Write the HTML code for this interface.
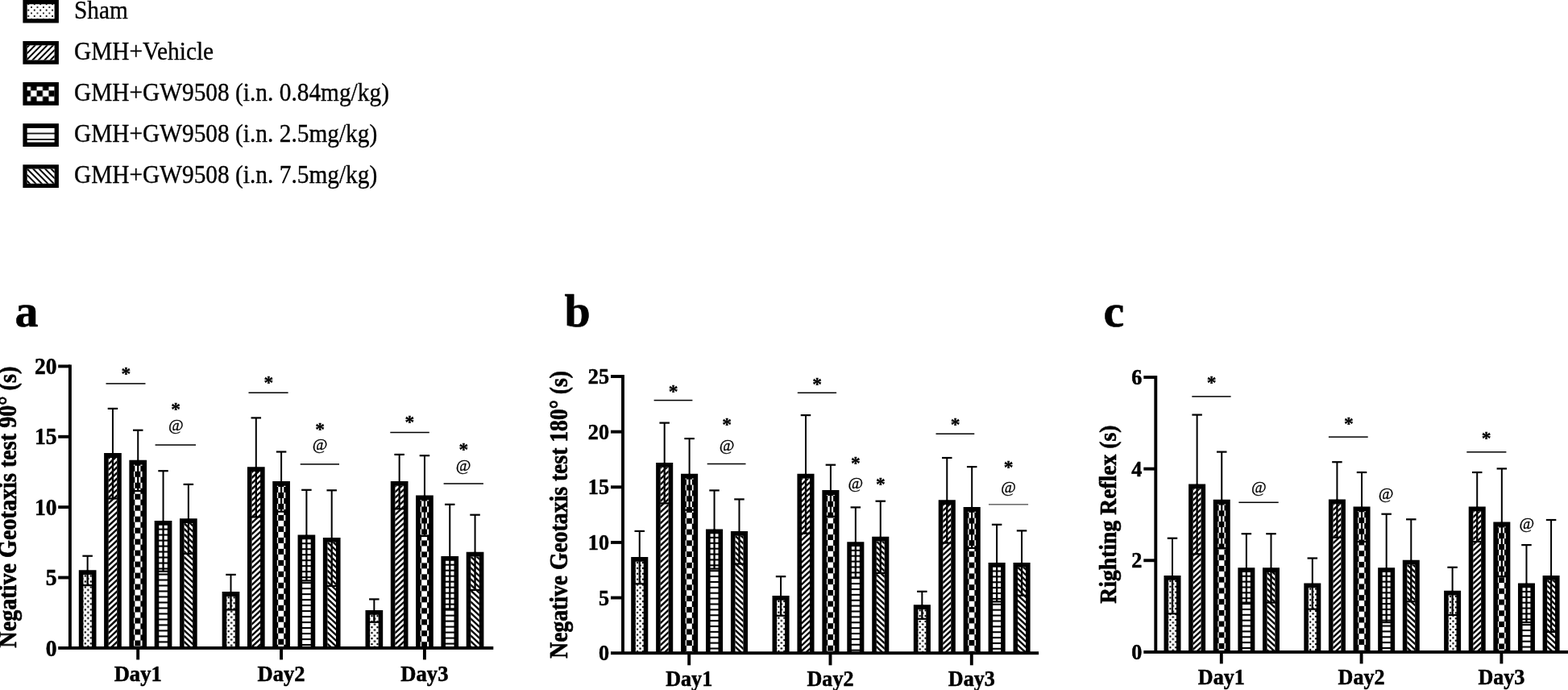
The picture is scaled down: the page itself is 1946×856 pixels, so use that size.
<!DOCTYPE html>
<html lang="en"><head><meta charset="utf-8"><title>Figure</title>
<style>html,body{margin:0;padding:0;background:#fff}svg{display:block}text{font-family:'Liberation Serif', 'Times New Roman', serif;fill:#000}</style></head><body>
<svg width="1946" height="856" viewBox="0 0 1946 856">
<defs>
<pattern id="pl0" patternUnits="userSpaceOnUse" x="6.9" y="5.3" width="7.45" height="7.45"><rect width="7.45" height="7.45" fill="#fff"/><circle cx="0" cy="0" r="1.05" fill="#000"/><circle cx="7.45" cy="0" r="1.05" fill="#000"/><circle cx="0" cy="7.45" r="1.05" fill="#000"/><circle cx="7.45" cy="7.45" r="1.05" fill="#000"/><circle cx="3.73" cy="3.73" r="1.05" fill="#000"/></pattern>
<pattern id="pl1" patternUnits="userSpaceOnUse" x="7.7" y="5.3" width="7.45" height="7.45"><rect width="7.45" height="7.45" fill="#fff"/><path d="M-7.45,7.45 L7.45,-7.45 M-7.45,14.9 L14.9,-7.45 M0,14.9 L14.9,0" stroke="#000" stroke-width="2.0" fill="none"/></pattern>
<pattern id="pl2" patternUnits="userSpaceOnUse" x="2.25" y="10.2" width="14.9" height="14.9"><rect width="14.9" height="14.9" fill="#fff"/><rect x="0" y="0" width="7.45" height="7.45" fill="#000"/><rect x="7.45" y="7.45" width="7.45" height="7.45" fill="#000"/></pattern>
<pattern id="pl3" patternUnits="userSpaceOnUse" x="5.3" y="4.9" width="7.45" height="7.45"><rect width="7.45" height="7.45" fill="#fff"/><rect x="0" y="-0.85" width="7.45" height="1.7" fill="#000"/><rect x="0" y="6.6" width="7.45" height="1.7" fill="#000"/></pattern>
<pattern id="pl4" patternUnits="userSpaceOnUse" x="5.3" y="5.3" width="7.45" height="7.45"><rect width="7.45" height="7.45" fill="#fff"/><path d="M-7.45,-7.45 L14.9,14.9 M0,-7.45 L14.9,7.45 M-7.45,0 L7.45,14.9" stroke="#000" stroke-width="2.0" fill="none"/></pattern>
<pattern id="pc0_0" patternUnits="userSpaceOnUse" x="1.03" y="0.18" width="6.99" height="6.99"><rect width="6.99" height="6.99" fill="#fff"/><circle cx="0" cy="0" r="1.25" fill="#000"/><circle cx="6.99" cy="0" r="1.25" fill="#000"/><circle cx="0" cy="6.99" r="1.25" fill="#000"/><circle cx="6.99" cy="6.99" r="1.25" fill="#000"/><circle cx="3.5" cy="3.5" r="1.25" fill="#000"/></pattern>
<pattern id="pc0_1" patternUnits="userSpaceOnUse" x="0" y="4.67" width="6.99" height="6.99"><rect width="6.99" height="6.99" fill="#fff"/><path d="M-6.99,6.99 L6.99,-6.99 M-6.99,13.98 L13.98,-6.99 M0,13.98 L13.98,0" stroke="#000" stroke-width="2.4" fill="none"/></pattern>
<pattern id="pc0_2" patternUnits="userSpaceOnUse" x="6.99" y="0" width="13.98" height="13.98"><rect width="13.98" height="13.98" fill="#fff"/><rect x="0" y="0" width="6.99" height="6.99" fill="#000"/><rect x="6.99" y="6.99" width="6.99" height="6.99" fill="#000"/></pattern>
<pattern id="pc0_3" patternUnits="userSpaceOnUse" x="0" y="3.71" width="6.99" height="6.99"><rect width="6.99" height="6.99" fill="#fff"/><rect x="0" y="-1.05" width="6.99" height="2.1" fill="#000"/><rect x="0" y="5.94" width="6.99" height="2.1" fill="#000"/></pattern>
<pattern id="pc0_4" patternUnits="userSpaceOnUse" x="0" y="0.76" width="6.99" height="6.99"><rect width="6.99" height="6.99" fill="#fff"/><path d="M-6.99,-6.99 L13.98,13.98 M0,-6.99 L13.98,6.99 M-6.99,0 L6.99,13.98" stroke="#000" stroke-width="2.4" fill="none"/></pattern>
<pattern id="pc1_0" patternUnits="userSpaceOnUse" x="1.03" y="0.18" width="6.88" height="6.88"><rect width="6.88" height="6.88" fill="#fff"/><circle cx="0" cy="0" r="1.25" fill="#000"/><circle cx="6.88" cy="0" r="1.25" fill="#000"/><circle cx="0" cy="6.88" r="1.25" fill="#000"/><circle cx="6.88" cy="6.88" r="1.25" fill="#000"/><circle cx="3.44" cy="3.44" r="1.25" fill="#000"/></pattern>
<pattern id="pc1_1" patternUnits="userSpaceOnUse" x="0" y="4.69" width="6.88" height="6.88"><rect width="6.88" height="6.88" fill="#fff"/><path d="M-6.88,6.88 L6.88,-6.88 M-6.88,13.76 L13.76,-6.88 M0,13.76 L13.76,0" stroke="#000" stroke-width="2.4" fill="none"/></pattern>
<pattern id="pc1_2" patternUnits="userSpaceOnUse" x="6.88" y="0" width="13.76" height="13.76"><rect width="13.76" height="13.76" fill="#fff"/><rect x="0" y="0" width="6.88" height="6.88" fill="#000"/><rect x="6.88" y="6.88" width="6.88" height="6.88" fill="#000"/></pattern>
<pattern id="pc1_3" patternUnits="userSpaceOnUse" x="0" y="3.64" width="6.88" height="6.88"><rect width="6.88" height="6.88" fill="#fff"/><rect x="0" y="-1.05" width="6.88" height="2.1" fill="#000"/><rect x="0" y="5.83" width="6.88" height="2.1" fill="#000"/></pattern>
<pattern id="pc1_4" patternUnits="userSpaceOnUse" x="0" y="0.74" width="6.88" height="6.88"><rect width="6.88" height="6.88" fill="#fff"/><path d="M-6.88,-6.88 L13.76,13.76 M0,-6.88 L13.76,6.88 M-6.88,0 L6.88,13.76" stroke="#000" stroke-width="2.4" fill="none"/></pattern>
<pattern id="pc2_0" patternUnits="userSpaceOnUse" x="1.03" y="0.18" width="6.86" height="6.86"><rect width="6.86" height="6.86" fill="#fff"/><circle cx="0" cy="0" r="1.25" fill="#000"/><circle cx="6.86" cy="0" r="1.25" fill="#000"/><circle cx="0" cy="6.86" r="1.25" fill="#000"/><circle cx="6.86" cy="6.86" r="1.25" fill="#000"/><circle cx="3.43" cy="3.43" r="1.25" fill="#000"/></pattern>
<pattern id="pc2_1" patternUnits="userSpaceOnUse" x="0" y="4.71" width="6.86" height="6.86"><rect width="6.86" height="6.86" fill="#fff"/><path d="M-6.86,6.86 L6.86,-6.86 M-6.86,13.72 L13.72,-6.86 M0,13.72 L13.72,0" stroke="#000" stroke-width="2.4" fill="none"/></pattern>
<pattern id="pc2_2" patternUnits="userSpaceOnUse" x="6.86" y="0" width="13.72" height="13.72"><rect width="13.72" height="13.72" fill="#fff"/><rect x="0" y="0" width="6.86" height="6.86" fill="#000"/><rect x="6.86" y="6.86" width="6.86" height="6.86" fill="#000"/></pattern>
<pattern id="pc2_3" patternUnits="userSpaceOnUse" x="0" y="3.62" width="6.86" height="6.86"><rect width="6.86" height="6.86" fill="#fff"/><rect x="0" y="-1.05" width="6.86" height="2.1" fill="#000"/><rect x="0" y="5.81" width="6.86" height="2.1" fill="#000"/></pattern>
<pattern id="pc2_4" patternUnits="userSpaceOnUse" x="0" y="0.72" width="6.86" height="6.86"><rect width="6.86" height="6.86" fill="#fff"/><path d="M-6.86,-6.86 L13.72,13.72 M0,-6.86 L13.72,6.86 M-6.86,0 L6.86,13.72" stroke="#000" stroke-width="2.4" fill="none"/></pattern>
</defs>

<rect width="1946" height="856" fill="#fff"/>
<g transform="translate(28.4,-0.1)"><rect x="4.3" y="4.3" width="35.9" height="20.1" fill="url(#pl0)"/></g><path fill-rule="evenodd" d="M28.4,-0.1h44.5v28.7h-44.5zM33.7,5.2h33.9v18.1h-33.9z"/>
<text transform="translate(92,22.5) scale(0.918,1)" font-size="32" stroke="#000" stroke-width="0.35" stroke-linejoin="round">Sham</text>
<path d="M33.7,60.11L33.7,57.29L34.69,56.3L37.51,56.3ZM33.7,67.56L33.7,64.74L42.14,56.3L44.96,56.3ZM34.31,74.4L33.7,74.4L33.7,72.19L49.59,56.3L52.41,56.3ZM41.76,74.4L38.94,74.4L57.04,56.3L59.86,56.3ZM49.21,74.4L46.39,74.4L64.49,56.3L67.31,56.3ZM56.66,74.4L53.84,74.4L67.6,60.64L67.6,63.46ZM64.11,74.4L61.29,74.4L67.6,68.09L67.6,70.91Z"/><path fill-rule="evenodd" d="M28.4,51h44.5v28.7h-44.5zM33.7,56.3h33.9v18.1h-33.9z"/>
<text transform="translate(92,73.6) scale(0.918,1)" font-size="32" stroke="#000" stroke-width="0.35" stroke-linejoin="round">GMH+Vehicle</text>
<g transform="translate(28.4,102.1)"><rect x="4.3" y="4.3" width="35.9" height="20.1" fill="url(#pl2)"/></g><path fill-rule="evenodd" d="M28.4,102.1h44.5v28.7h-44.5zM33.7,107.4h33.9v18.1h-33.9z"/>
<text transform="translate(92,124.7) scale(0.918,1)" font-size="32" stroke="#000" stroke-width="0.35" stroke-linejoin="round">GMH+GW9508 (i.n. 0.84mg/kg)</text>
<g transform="translate(28.4,153.2)"><rect x="4.3" y="4.3" width="35.9" height="20.1" fill="url(#pl3)"/></g><path fill-rule="evenodd" d="M28.4,153.2h44.5v28.7h-44.5zM33.7,158.5h33.9v18.1h-33.9z"/>
<text transform="translate(92,175.8) scale(0.918,1)" font-size="32" stroke="#000" stroke-width="0.35" stroke-linejoin="round">GMH+GW9508 (i.n. 2.5mg/kg)</text>
<path d="M62.09,209.6L64.91,209.6L67.6,212.29L67.6,215.11ZM54.64,209.6L57.46,209.6L67.6,219.74L67.6,222.56ZM65.29,227.7L47.19,209.6L50.01,209.6L67.6,227.19L67.6,227.7ZM57.84,227.7L39.74,209.6L42.56,209.6L60.66,227.7ZM50.39,227.7L33.7,211.01L33.7,209.6L35.11,209.6L53.21,227.7ZM42.94,227.7L33.7,218.46L33.7,215.64L45.76,227.7ZM35.49,227.7L33.7,225.91L33.7,223.09L38.31,227.7Z"/><path fill-rule="evenodd" d="M28.4,204.3h44.5v28.7h-44.5zM33.7,209.6h33.9v18.1h-33.9z"/>
<text transform="translate(92,226.9) scale(0.918,1)" font-size="32" stroke="#000" stroke-width="0.35" stroke-linejoin="round">GMH+GW9508 (i.n. 7.5mg/kg)</text>
<text transform="translate(18.5,404.8)" font-size="58" font-weight="bold" stroke="#000" stroke-width="0.6" stroke-linejoin="round">a</text>
<text transform="translate(20,629.2) rotate(-90)" font-size="30.8" text-anchor="middle" font-weight="bold" textLength="349" lengthAdjust="spacingAndGlyphs" stroke="#000" stroke-width="0.65" stroke-linejoin="round">Negative Geotaxis test 90° (s)</text>
<g transform="translate(97.8,707.3)"><rect x="4.6" y="4.8" width="12.5" height="92.8" fill="url(#pc0_0)"/></g><path fill-rule="evenodd" d="M97.8,707.3h21.7v96.6h-21.7zM103.4,713.1h10.5v90.8h-10.5z"/>
<rect x="107.65" y="689.7" width="2" height="18.6" fill="#000"/>
<rect x="107.5" y="707.3" width="2.3" height="18.8" fill="#000"/>
<rect x="102.4" y="688.6" width="12.5" height="2.2" fill="#000"/>
<rect x="102.9" y="725" width="11.5" height="2.2" fill="#000"/>
<path d="M134.7,570.19L134.7,567.9L137.16,567.9ZM134.7,577.18L134.7,573.9L141.16,567.9L144.68,567.9ZM134.7,584.17L134.7,580.89L145.2,571.13L145.2,574.41ZM134.7,591.16L134.7,587.88L145.2,578.12L145.2,581.4ZM134.7,598.15L134.7,594.87L145.2,585.11L145.2,588.39ZM134.7,605.14L134.7,601.86L145.2,592.1L145.2,595.38ZM134.7,612.13L134.7,608.85L145.2,599.09L145.2,602.37ZM134.7,619.12L134.7,615.84L145.2,606.08L145.2,609.36ZM134.7,626.11L134.7,622.83L145.2,613.07L145.2,616.35ZM134.7,633.1L134.7,629.82L145.2,620.06L145.2,623.34ZM134.7,640.09L134.7,636.81L145.2,627.05L145.2,630.33ZM134.7,647.08L134.7,643.8L145.2,634.04L145.2,637.32ZM134.7,654.07L134.7,650.79L145.2,641.03L145.2,644.31ZM134.7,661.06L134.7,657.78L145.2,648.02L145.2,651.3ZM134.7,668.05L134.7,664.77L145.2,655.01L145.2,658.29ZM134.7,675.04L134.7,671.76L145.2,662L145.2,665.28ZM134.7,682.03L134.7,678.75L145.2,668.99L145.2,672.27ZM134.7,689.02L134.7,685.74L145.2,675.98L145.2,679.26ZM134.7,696.01L134.7,692.73L145.2,682.97L145.2,686.25ZM134.7,703L134.7,699.72L145.2,689.96L145.2,693.24ZM134.7,709.99L134.7,706.71L145.2,696.95L145.2,700.23ZM134.7,716.98L134.7,713.7L145.2,703.94L145.2,707.22ZM134.7,723.97L134.7,720.69L145.2,710.93L145.2,714.21ZM134.7,730.96L134.7,727.68L145.2,717.92L145.2,721.2ZM134.7,737.95L134.7,734.67L145.2,724.91L145.2,728.19ZM134.7,744.94L134.7,741.66L145.2,731.9L145.2,735.18ZM134.7,751.93L134.7,748.65L145.2,738.89L145.2,742.17ZM134.7,758.92L134.7,755.64L145.2,745.88L145.2,749.16ZM134.7,765.91L134.7,762.63L145.2,752.87L145.2,756.15ZM134.7,772.9L134.7,769.62L145.2,759.86L145.2,763.14ZM134.7,779.89L134.7,776.61L145.2,766.85L145.2,770.13ZM134.7,786.88L134.7,783.6L145.2,773.84L145.2,777.12ZM134.7,793.87L134.7,790.59L145.2,780.83L145.2,784.11ZM134.7,800.86L134.7,797.58L145.2,787.82L145.2,791.1ZM138.95,803.9L135.42,803.9L145.2,794.81L145.2,798.09ZM142.94,803.9L145.2,801.8L145.2,803.9Z"/><path fill-rule="evenodd" d="M129.1,562.1h21.7v241.8h-21.7zM134.7,567.9h10.5v236h-10.5z"/>
<rect x="138.95" y="506.9" width="2" height="56.2" fill="#000"/>
<rect x="138.8" y="562.1" width="2.3" height="56.4" fill="#000"/>
<rect x="133.7" y="505.8" width="12.5" height="2.2" fill="#000"/>
<rect x="134.2" y="617.4" width="11.5" height="2.2" fill="#000"/>
<g transform="translate(160.4,570.8)"><rect x="4.6" y="4.8" width="12.5" height="229.3" fill="url(#pc0_2)"/></g><path fill-rule="evenodd" d="M160.4,570.8h21.7v233.1h-21.7zM166,576.6h10.5v227.3h-10.5z"/>
<rect x="170.25" y="533.7" width="2" height="38.1" fill="#000"/>
<rect x="170.1" y="570.8" width="2.3" height="38.3" fill="#000"/>
<rect x="165" y="532.6" width="12.5" height="2.2" fill="#000"/>
<rect x="165.5" y="608" width="11.5" height="2.2" fill="#000"/>
<g transform="translate(191.7,645.9)"><rect x="4.6" y="4.8" width="12.5" height="154.2" fill="url(#pc0_3)"/></g><path fill-rule="evenodd" d="M191.7,645.9h21.7v158h-21.7zM197.3,651.7h10.5v152.2h-10.5z"/>
<rect x="201.55" y="584.2" width="2" height="62.7" fill="#000"/>
<rect x="201.4" y="645.9" width="2.3" height="62.9" fill="#000"/>
<rect x="196.3" y="583.1" width="12.5" height="2.2" fill="#000"/>
<rect x="196.8" y="707.7" width="11.5" height="2.2" fill="#000"/>
<path d="M234.17,649.1L237.7,649.1L239.1,650.4L239.1,653.68ZM228.6,650.91L228.6,649.1L230.18,649.1L239.1,657.39L239.1,660.67ZM228.6,657.9L228.6,654.62L239.1,664.38L239.1,667.66ZM228.6,664.89L228.6,661.61L239.1,671.37L239.1,674.65ZM228.6,671.88L228.6,668.6L239.1,678.36L239.1,681.64ZM228.6,678.87L228.6,675.59L239.1,685.35L239.1,688.63ZM228.6,685.86L228.6,682.58L239.1,692.34L239.1,695.62ZM228.6,692.85L228.6,689.57L239.1,699.33L239.1,702.61ZM228.6,699.84L228.6,696.56L239.1,706.32L239.1,709.6ZM228.6,706.83L228.6,703.55L239.1,713.31L239.1,716.59ZM228.6,713.82L228.6,710.54L239.1,720.3L239.1,723.58ZM228.6,720.81L228.6,717.53L239.1,727.29L239.1,730.57ZM228.6,727.8L228.6,724.52L239.1,734.28L239.1,737.56ZM228.6,734.79L228.6,731.51L239.1,741.27L239.1,744.55ZM228.6,741.78L228.6,738.5L239.1,748.26L239.1,751.54ZM228.6,748.77L228.6,745.49L239.1,755.25L239.1,758.53ZM228.6,755.76L228.6,752.48L239.1,762.24L239.1,765.52ZM228.6,762.75L228.6,759.47L239.1,769.23L239.1,772.51ZM228.6,769.74L228.6,766.46L239.1,776.22L239.1,779.5ZM228.6,776.73L228.6,773.45L239.1,783.21L239.1,786.49ZM228.6,783.72L228.6,780.44L239.1,790.2L239.1,793.48ZM228.6,790.71L228.6,787.43L239.1,797.19L239.1,800.47ZM235.27,803.9L228.6,797.7L228.6,794.42L238.79,803.9ZM228.6,803.9L228.6,801.41L231.28,803.9Z"/><path fill-rule="evenodd" d="M223,643.3h21.7v160.6h-21.7zM228.6,649.1h10.5v154.8h-10.5z"/>
<rect x="232.85" y="600.9" width="2" height="43.4" fill="#000"/>
<rect x="232.7" y="643.3" width="2.3" height="43.6" fill="#000"/>
<rect x="227.6" y="599.8" width="12.5" height="2.2" fill="#000"/>
<rect x="228.1" y="685.8" width="11.5" height="2.2" fill="#000"/>
<rect x="169.25" y="803.9" width="3.9" height="14.5" fill="#000"/>
<text transform="translate(171.2,844.8) scale(0.95,1)" font-size="28" text-anchor="middle" font-weight="bold" stroke="#000" stroke-width="0.55" stroke-linejoin="round">Day1</text>
<g transform="translate(275.65,734.1)"><rect x="4.6" y="4.8" width="12.5" height="66" fill="url(#pc0_0)"/></g><path fill-rule="evenodd" d="M275.65,734.1h21.7v69.8h-21.7zM281.25,739.9h10.5v64h-10.5z"/>
<rect x="285.5" y="712.9" width="2" height="22.2" fill="#000"/>
<rect x="285.35" y="734.1" width="2.3" height="22.4" fill="#000"/>
<rect x="280.25" y="711.8" width="12.5" height="2.2" fill="#000"/>
<rect x="280.75" y="755.4" width="11.5" height="2.2" fill="#000"/>
<path d="M312.55,587.39L312.55,585.1L315.01,585.1ZM312.55,594.38L312.55,591.1L319.01,585.1L322.53,585.1ZM312.55,601.37L312.55,598.09L323.05,588.33L323.05,591.61ZM312.55,608.36L312.55,605.08L323.05,595.32L323.05,598.6ZM312.55,615.35L312.55,612.07L323.05,602.31L323.05,605.59ZM312.55,622.34L312.55,619.06L323.05,609.3L323.05,612.58ZM312.55,629.33L312.55,626.05L323.05,616.29L323.05,619.57ZM312.55,636.32L312.55,633.04L323.05,623.28L323.05,626.56ZM312.55,643.31L312.55,640.03L323.05,630.27L323.05,633.55ZM312.55,650.3L312.55,647.02L323.05,637.26L323.05,640.54ZM312.55,657.29L312.55,654.01L323.05,644.25L323.05,647.53ZM312.55,664.28L312.55,661L323.05,651.24L323.05,654.52ZM312.55,671.27L312.55,667.99L323.05,658.23L323.05,661.51ZM312.55,678.26L312.55,674.98L323.05,665.22L323.05,668.5ZM312.55,685.25L312.55,681.97L323.05,672.21L323.05,675.49ZM312.55,692.24L312.55,688.96L323.05,679.2L323.05,682.48ZM312.55,699.23L312.55,695.95L323.05,686.19L323.05,689.47ZM312.55,706.22L312.55,702.94L323.05,693.18L323.05,696.46ZM312.55,713.21L312.55,709.93L323.05,700.17L323.05,703.45ZM312.55,720.2L312.55,716.92L323.05,707.16L323.05,710.44ZM312.55,727.19L312.55,723.91L323.05,714.15L323.05,717.43ZM312.55,734.18L312.55,730.9L323.05,721.14L323.05,724.42ZM312.55,741.17L312.55,737.89L323.05,728.13L323.05,731.41ZM312.55,748.16L312.55,744.88L323.05,735.12L323.05,738.4ZM312.55,755.15L312.55,751.87L323.05,742.11L323.05,745.39ZM312.55,762.14L312.55,758.86L323.05,749.1L323.05,752.38ZM312.55,769.13L312.55,765.85L323.05,756.09L323.05,759.37ZM312.55,776.12L312.55,772.84L323.05,763.08L323.05,766.36ZM312.55,783.11L312.55,779.83L323.05,770.07L323.05,773.35ZM312.55,790.1L312.55,786.82L323.05,777.06L323.05,780.34ZM312.55,797.09L312.55,793.81L323.05,784.05L323.05,787.33ZM312.74,803.9L312.55,803.9L312.55,800.8L323.05,791.04L323.05,794.32ZM320.26,803.9L316.74,803.9L323.05,798.03L323.05,801.31Z"/><path fill-rule="evenodd" d="M306.95,579.3h21.7v224.6h-21.7zM312.55,585.1h10.5v218.8h-10.5z"/>
<rect x="316.8" y="518.4" width="2" height="61.9" fill="#000"/>
<rect x="316.65" y="579.3" width="2.3" height="62.1" fill="#000"/>
<rect x="311.55" y="517.3" width="12.5" height="2.2" fill="#000"/>
<rect x="312.05" y="640.3" width="11.5" height="2.2" fill="#000"/>
<g transform="translate(338.25,597)"><rect x="4.6" y="4.8" width="12.5" height="203.1" fill="url(#pc0_2)"/></g><path fill-rule="evenodd" d="M338.25,597h21.7v206.9h-21.7zM343.85,602.8h10.5v201.1h-10.5z"/>
<rect x="348.1" y="560.5" width="2" height="37.5" fill="#000"/>
<rect x="347.95" y="597" width="2.3" height="37.7" fill="#000"/>
<rect x="342.85" y="559.4" width="12.5" height="2.2" fill="#000"/>
<rect x="343.35" y="633.6" width="11.5" height="2.2" fill="#000"/>
<g transform="translate(369.55,663.5)"><rect x="4.6" y="4.8" width="12.5" height="136.6" fill="url(#pc0_3)"/></g><path fill-rule="evenodd" d="M369.55,663.5h21.7v140.4h-21.7zM375.15,669.3h10.5v134.6h-10.5z"/>
<rect x="379.4" y="607.8" width="2" height="56.7" fill="#000"/>
<rect x="379.25" y="663.5" width="2.3" height="56.9" fill="#000"/>
<rect x="374.15" y="606.7" width="12.5" height="2.2" fill="#000"/>
<rect x="374.65" y="719.3" width="11.5" height="2.2" fill="#000"/>
<path d="M412.02,672.8L415.55,672.8L416.95,674.1L416.95,677.38ZM406.45,674.61L406.45,672.8L408.03,672.8L416.95,681.09L416.95,684.37ZM406.45,681.6L406.45,678.32L416.95,688.08L416.95,691.36ZM406.45,688.59L406.45,685.31L416.95,695.07L416.95,698.35ZM406.45,695.58L406.45,692.3L416.95,702.06L416.95,705.34ZM406.45,702.57L406.45,699.29L416.95,709.05L416.95,712.33ZM406.45,709.56L406.45,706.28L416.95,716.04L416.95,719.32ZM406.45,716.55L406.45,713.27L416.95,723.03L416.95,726.31ZM406.45,723.54L406.45,720.26L416.95,730.02L416.95,733.3ZM406.45,730.53L406.45,727.25L416.95,737.01L416.95,740.29ZM406.45,737.52L406.45,734.24L416.95,744L416.95,747.28ZM406.45,744.51L406.45,741.23L416.95,750.99L416.95,754.27ZM406.45,751.5L406.45,748.22L416.95,757.98L416.95,761.26ZM406.45,758.49L406.45,755.21L416.95,764.97L416.95,768.25ZM406.45,765.48L406.45,762.2L416.95,771.96L416.95,775.24ZM406.45,772.47L406.45,769.19L416.95,778.95L416.95,782.23ZM406.45,779.46L406.45,776.18L416.95,785.94L416.95,789.22ZM406.45,786.45L406.45,783.17L416.95,792.93L416.95,796.21ZM406.45,793.44L406.45,790.16L416.95,799.92L416.95,803.2ZM410.19,803.9L406.45,800.43L406.45,797.15L413.71,803.9Z"/><path fill-rule="evenodd" d="M400.85,667h21.7v136.9h-21.7zM406.45,672.8h10.5v131.1h-10.5z"/>
<rect x="410.7" y="608.3" width="2" height="59.7" fill="#000"/>
<rect x="410.55" y="667" width="2.3" height="59.9" fill="#000"/>
<rect x="405.45" y="607.2" width="12.5" height="2.2" fill="#000"/>
<rect x="405.95" y="725.8" width="11.5" height="2.2" fill="#000"/>
<rect x="347.1" y="803.9" width="3.9" height="14.5" fill="#000"/>
<text transform="translate(349.05,844.8) scale(0.95,1)" font-size="28" text-anchor="middle" font-weight="bold" stroke="#000" stroke-width="0.55" stroke-linejoin="round">Day2</text>
<g transform="translate(453.5,757)"><rect x="4.6" y="4.8" width="12.5" height="43.1" fill="url(#pc0_0)"/></g><path fill-rule="evenodd" d="M453.5,757h21.7v46.9h-21.7zM459.1,762.8h10.5v41.1h-10.5z"/>
<rect x="463.35" y="743.4" width="2" height="14.6" fill="#000"/>
<rect x="463.2" y="757" width="2.3" height="14.8" fill="#000"/>
<rect x="458.1" y="742.3" width="12.5" height="2.2" fill="#000"/>
<rect x="458.6" y="770.7" width="11.5" height="2.2" fill="#000"/>
<path d="M490.4,605.09L490.4,602.8L492.86,602.8ZM490.4,612.08L490.4,608.8L496.86,602.8L500.38,602.8ZM490.4,619.07L490.4,615.79L500.9,606.03L500.9,609.31ZM490.4,626.06L490.4,622.78L500.9,613.02L500.9,616.3ZM490.4,633.05L490.4,629.77L500.9,620.01L500.9,623.29ZM490.4,640.04L490.4,636.76L500.9,627L500.9,630.28ZM490.4,647.03L490.4,643.75L500.9,633.99L500.9,637.27ZM490.4,654.02L490.4,650.74L500.9,640.98L500.9,644.26ZM490.4,661.01L490.4,657.73L500.9,647.97L500.9,651.25ZM490.4,668L490.4,664.72L500.9,654.96L500.9,658.24ZM490.4,674.99L490.4,671.71L500.9,661.95L500.9,665.23ZM490.4,681.98L490.4,678.7L500.9,668.94L500.9,672.22ZM490.4,688.97L490.4,685.69L500.9,675.93L500.9,679.21ZM490.4,695.96L490.4,692.68L500.9,682.92L500.9,686.2ZM490.4,702.95L490.4,699.67L500.9,689.91L500.9,693.19ZM490.4,709.94L490.4,706.66L500.9,696.9L500.9,700.18ZM490.4,716.93L490.4,713.65L500.9,703.89L500.9,707.17ZM490.4,723.92L490.4,720.64L500.9,710.88L500.9,714.16ZM490.4,730.91L490.4,727.63L500.9,717.87L500.9,721.15ZM490.4,737.9L490.4,734.62L500.9,724.86L500.9,728.14ZM490.4,744.89L490.4,741.61L500.9,731.85L500.9,735.13ZM490.4,751.88L490.4,748.6L500.9,738.84L500.9,742.12ZM490.4,758.87L490.4,755.59L500.9,745.83L500.9,749.11ZM490.4,765.86L490.4,762.58L500.9,752.82L500.9,756.1ZM490.4,772.85L490.4,769.57L500.9,759.81L500.9,763.09ZM490.4,779.84L490.4,776.56L500.9,766.8L500.9,770.08ZM490.4,786.83L490.4,783.55L500.9,773.79L500.9,777.07ZM490.4,793.82L490.4,790.54L500.9,780.78L500.9,784.06ZM490.4,800.81L490.4,797.53L500.9,787.77L500.9,791.05ZM494.59,803.9L491.07,803.9L500.9,794.76L500.9,798.04ZM498.59,803.9L500.9,801.75L500.9,803.9Z"/><path fill-rule="evenodd" d="M484.8,597h21.7v206.9h-21.7zM490.4,602.8h10.5v201.1h-10.5z"/>
<rect x="494.65" y="563.9" width="2" height="34.1" fill="#000"/>
<rect x="494.5" y="597" width="2.3" height="34.3" fill="#000"/>
<rect x="489.4" y="562.8" width="12.5" height="2.2" fill="#000"/>
<rect x="489.9" y="630.2" width="11.5" height="2.2" fill="#000"/>
<g transform="translate(516.1,614.5)"><rect x="4.6" y="4.8" width="12.5" height="185.6" fill="url(#pc0_2)"/></g><path fill-rule="evenodd" d="M516.1,614.5h21.7v189.4h-21.7zM521.7,620.3h10.5v183.6h-10.5z"/>
<rect x="525.95" y="565.2" width="2" height="50.3" fill="#000"/>
<rect x="525.8" y="614.5" width="2.3" height="50.5" fill="#000"/>
<rect x="520.7" y="564.1" width="12.5" height="2.2" fill="#000"/>
<rect x="521.2" y="663.9" width="11.5" height="2.2" fill="#000"/>
<g transform="translate(547.4,690)"><rect x="4.6" y="4.8" width="12.5" height="110.1" fill="url(#pc0_3)"/></g><path fill-rule="evenodd" d="M547.4,690h21.7v113.9h-21.7zM553,695.8h10.5v108.1h-10.5z"/>
<rect x="557.25" y="625.8" width="2" height="65.2" fill="#000"/>
<rect x="557.1" y="690" width="2.3" height="65.4" fill="#000"/>
<rect x="552" y="624.7" width="12.5" height="2.2" fill="#000"/>
<rect x="552.5" y="754.3" width="11.5" height="2.2" fill="#000"/>
<path d="M589.87,690.5L593.4,690.5L594.8,691.8L594.8,695.08ZM584.3,692.31L584.3,690.5L585.88,690.5L594.8,698.79L594.8,702.07ZM584.3,699.3L584.3,696.02L594.8,705.78L594.8,709.06ZM584.3,706.29L584.3,703.01L594.8,712.77L594.8,716.05ZM584.3,713.28L584.3,710L594.8,719.76L594.8,723.04ZM584.3,720.27L584.3,716.99L594.8,726.75L594.8,730.03ZM584.3,727.26L584.3,723.98L594.8,733.74L594.8,737.02ZM584.3,734.25L584.3,730.97L594.8,740.73L594.8,744.01ZM584.3,741.24L584.3,737.96L594.8,747.72L594.8,751ZM584.3,748.23L584.3,744.95L594.8,754.71L594.8,757.99ZM584.3,755.22L584.3,751.94L594.8,761.7L594.8,764.98ZM584.3,762.21L584.3,758.93L594.8,768.69L594.8,771.97ZM584.3,769.2L584.3,765.92L594.8,775.68L594.8,778.96ZM584.3,776.19L584.3,772.91L594.8,782.67L594.8,785.95ZM584.3,783.18L584.3,779.9L594.8,789.66L594.8,792.94ZM584.3,790.17L584.3,786.89L594.8,796.65L594.8,799.93ZM591.55,803.9L584.3,797.16L584.3,793.88L594.8,803.64L594.8,803.9ZM584.3,803.9L584.3,800.87L587.56,803.9Z"/><path fill-rule="evenodd" d="M578.7,684.7h21.7v119.2h-21.7zM584.3,690.5h10.5v113.4h-10.5z"/>
<rect x="588.55" y="638.7" width="2" height="47" fill="#000"/>
<rect x="588.4" y="684.7" width="2.3" height="47.2" fill="#000"/>
<rect x="583.3" y="637.6" width="12.5" height="2.2" fill="#000"/>
<rect x="583.8" y="730.8" width="11.5" height="2.2" fill="#000"/>
<rect x="524.95" y="803.9" width="3.9" height="14.5" fill="#000"/>
<text transform="translate(526.9,844.8) scale(0.95,1)" font-size="28" text-anchor="middle" font-weight="bold" stroke="#000" stroke-width="0.55" stroke-linejoin="round">Day3</text>
<rect x="84.95" y="452.45" width="3.9" height="351.45" fill="#000"/>
<rect x="72.2" y="801.95" width="540.1" height="3.9" fill="#000"/>
<text transform="translate(70.4,813.6) scale(0.965,1)" font-size="28.5" text-anchor="end" font-weight="bold" stroke="#000" stroke-width="0.55" stroke-linejoin="round">0</text>
<rect x="72.2" y="714.57" width="14.7" height="3.9" fill="#000"/>
<text transform="translate(70.4,726.23) scale(0.965,1)" font-size="28.5" text-anchor="end" font-weight="bold" stroke="#000" stroke-width="0.55" stroke-linejoin="round">5</text>
<rect x="72.2" y="627.2" width="14.7" height="3.9" fill="#000"/>
<text transform="translate(70.4,638.85) scale(0.965,1)" font-size="28.5" text-anchor="end" font-weight="bold" stroke="#000" stroke-width="0.55" stroke-linejoin="round">10</text>
<rect x="72.2" y="539.82" width="14.7" height="3.9" fill="#000"/>
<text transform="translate(70.4,551.48) scale(0.965,1)" font-size="28.5" text-anchor="end" font-weight="bold" stroke="#000" stroke-width="0.55" stroke-linejoin="round">15</text>
<rect x="72.2" y="452.45" width="14.7" height="3.9" fill="#000"/>
<text transform="translate(70.4,464.1) scale(0.965,1)" font-size="28.5" text-anchor="end" font-weight="bold" stroke="#000" stroke-width="0.55" stroke-linejoin="round">20</text>
<rect x="131.5" y="475.15" width="49" height="1.5" fill="#000"/>
<text transform="translate(156.3,470.5)" font-size="23.5" text-anchor="middle" font-weight="bold" stroke="#000" stroke-width="0.4" stroke-linejoin="round">*</text>
<rect x="192.6" y="551.25" width="50.4" height="1.5" fill="#000"/>
<text transform="translate(218.2,515)" font-size="23.5" text-anchor="middle" font-weight="bold" stroke="#000" stroke-width="0.4" stroke-linejoin="round">*</text>
<text transform="translate(218.4,534.4) scale(1.07,1)" font-size="19" text-anchor="middle" stroke="#000" stroke-width="0.3" stroke-linejoin="round">@</text>
<rect x="308.5" y="486.45" width="49.1" height="1.5" fill="#000"/>
<text transform="translate(333.4,481.6)" font-size="23.5" text-anchor="middle" font-weight="bold" stroke="#000" stroke-width="0.4" stroke-linejoin="round">*</text>
<rect x="372.7" y="575.15" width="48.3" height="1.5" fill="#000"/>
<text transform="translate(397.1,539.5)" font-size="23.5" text-anchor="middle" font-weight="bold" stroke="#000" stroke-width="0.4" stroke-linejoin="round">*</text>
<text transform="translate(397,558.4) scale(1.07,1)" font-size="19" text-anchor="middle" stroke="#000" stroke-width="0.3" stroke-linejoin="round">@</text>
<rect x="484.3" y="535.75" width="48.5" height="1.5" fill="#000"/>
<text transform="translate(508.4,531)" font-size="23.5" text-anchor="middle" font-weight="bold" stroke="#000" stroke-width="0.4" stroke-linejoin="round">*</text>
<rect x="550.6" y="599.25" width="49.3" height="1.5" fill="#000"/>
<text transform="translate(575.3,564.6)" font-size="23.5" text-anchor="middle" font-weight="bold" stroke="#000" stroke-width="0.4" stroke-linejoin="round">*</text>
<text transform="translate(575,583.9) scale(1.07,1)" font-size="19" text-anchor="middle" stroke="#000" stroke-width="0.3" stroke-linejoin="round">@</text>
<text transform="translate(700.6,404.8)" font-size="58" font-weight="bold" stroke="#000" stroke-width="0.6" stroke-linejoin="round">b</text>
<text transform="translate(704,638.45) rotate(-90)" font-size="30.8" text-anchor="middle" font-weight="bold" textLength="356.7" lengthAdjust="spacingAndGlyphs" stroke="#000" stroke-width="0.65" stroke-linejoin="round">Negative Geotaxis test 180° (s)</text>
<g transform="translate(783.2,691)"><rect x="4.6" y="4.8" width="11.9" height="115.4" fill="url(#pc1_0)"/></g><path fill-rule="evenodd" d="M783.2,691h21.1v119.2h-21.1zM788.8,696.8h9.9v113.4h-9.9z"/>
<rect x="792.75" y="658.9" width="2" height="33.1" fill="#000"/>
<rect x="792.6" y="691" width="2.3" height="33.3" fill="#000"/>
<rect x="787.5" y="657.8" width="12.5" height="2.2" fill="#000"/>
<rect x="788.3" y="723.2" width="10.9" height="2.2" fill="#000"/>
<path d="M819.73,581.9L819.73,579.7L822.1,579.7ZM819.73,588.78L819.73,585.5L825.97,579.7L829.5,579.7ZM819.73,595.66L819.73,592.38L829.63,583.18L829.63,586.46ZM819.73,602.54L819.73,599.26L829.63,590.06L829.63,593.34ZM819.73,609.42L819.73,606.14L829.63,596.94L829.63,600.22ZM819.73,616.3L819.73,613.02L829.63,603.82L829.63,607.1ZM819.73,623.18L819.73,619.9L829.63,610.7L829.63,613.98ZM819.73,630.06L819.73,626.78L829.63,617.58L829.63,620.86ZM819.73,636.94L819.73,633.66L829.63,624.46L829.63,627.74ZM819.73,643.82L819.73,640.54L829.63,631.34L829.63,634.62ZM819.73,650.7L819.73,647.42L829.63,638.22L829.63,641.5ZM819.73,657.58L819.73,654.3L829.63,645.1L829.63,648.38ZM819.73,664.46L819.73,661.18L829.63,651.98L829.63,655.26ZM819.73,671.34L819.73,668.06L829.63,658.86L829.63,662.14ZM819.73,678.22L819.73,674.94L829.63,665.74L829.63,669.02ZM819.73,685.1L819.73,681.82L829.63,672.62L829.63,675.9ZM819.73,691.98L819.73,688.7L829.63,679.5L829.63,682.78ZM819.73,698.86L819.73,695.58L829.63,686.38L829.63,689.66ZM819.73,705.74L819.73,702.46L829.63,693.26L829.63,696.54ZM819.73,712.62L819.73,709.34L829.63,700.14L829.63,703.42ZM819.73,719.5L819.73,716.22L829.63,707.02L829.63,710.3ZM819.73,726.38L819.73,723.1L829.63,713.9L829.63,717.18ZM819.73,733.26L819.73,729.98L829.63,720.78L829.63,724.06ZM819.73,740.14L819.73,736.86L829.63,727.66L829.63,730.94ZM819.73,747.02L819.73,743.74L829.63,734.54L829.63,737.82ZM819.73,753.9L819.73,750.62L829.63,741.42L829.63,744.7ZM819.73,760.78L819.73,757.5L829.63,748.3L829.63,751.58ZM819.73,767.66L819.73,764.38L829.63,755.18L829.63,758.46ZM819.73,774.54L819.73,771.26L829.63,762.06L829.63,765.34ZM819.73,781.42L819.73,778.14L829.63,768.94L829.63,772.22ZM819.73,788.3L819.73,785.02L829.63,775.82L829.63,779.1ZM819.73,795.18L819.73,791.9L829.63,782.7L829.63,785.98ZM819.73,802.06L819.73,798.78L829.63,789.58L829.63,792.86ZM819.73,808.94L819.73,805.66L829.63,796.46L829.63,799.74ZM825.78,810.2L822.25,810.2L829.63,803.34L829.63,806.62Z"/><path fill-rule="evenodd" d="M814.13,573.9h21.1v236.3h-21.1zM819.73,579.7h9.9v230.5h-9.9z"/>
<rect x="823.68" y="524.6" width="2" height="50.3" fill="#000"/>
<rect x="823.53" y="573.9" width="2.3" height="50.5" fill="#000"/>
<rect x="818.43" y="523.5" width="12.5" height="2.2" fill="#000"/>
<rect x="819.23" y="623.3" width="10.9" height="2.2" fill="#000"/>
<g transform="translate(845.06,587.8)"><rect x="4.6" y="4.8" width="11.9" height="218.6" fill="url(#pc1_2)"/></g><path fill-rule="evenodd" d="M845.06,587.8h21.1v222.4h-21.1zM850.66,593.6h9.9v216.6h-9.9z"/>
<rect x="854.61" y="544.1" width="2" height="44.7" fill="#000"/>
<rect x="854.46" y="587.8" width="2.3" height="44.9" fill="#000"/>
<rect x="849.36" y="543" width="12.5" height="2.2" fill="#000"/>
<rect x="850.16" y="631.6" width="10.9" height="2.2" fill="#000"/>
<g transform="translate(875.99,656.4)"><rect x="4.6" y="4.8" width="11.9" height="150" fill="url(#pc1_3)"/></g><path fill-rule="evenodd" d="M875.99,656.4h21.1v153.8h-21.1zM881.59,662.2h9.9v148h-9.9z"/>
<rect x="885.54" y="608.4" width="2" height="49" fill="#000"/>
<rect x="885.39" y="656.4" width="2.3" height="49.2" fill="#000"/>
<rect x="880.29" y="607.3" width="12.5" height="2.2" fill="#000"/>
<rect x="881.09" y="704.5" width="10.9" height="2.2" fill="#000"/>
<path d="M918,664.7L921.52,664.7L922.42,665.53L922.42,668.81ZM912.52,666.49L912.52,664.7L914.12,664.7L922.42,672.41L922.42,675.69ZM912.52,673.37L912.52,670.09L922.42,679.29L922.42,682.57ZM912.52,680.25L912.52,676.97L922.42,686.17L922.42,689.45ZM912.52,687.13L912.52,683.85L922.42,693.05L922.42,696.33ZM912.52,694.01L912.52,690.73L922.42,699.93L922.42,703.21ZM912.52,700.89L912.52,697.61L922.42,706.81L922.42,710.09ZM912.52,707.77L912.52,704.49L922.42,713.69L922.42,716.97ZM912.52,714.65L912.52,711.37L922.42,720.57L922.42,723.85ZM912.52,721.53L912.52,718.25L922.42,727.45L922.42,730.73ZM912.52,728.41L912.52,725.13L922.42,734.33L922.42,737.61ZM912.52,735.29L912.52,732.01L922.42,741.21L922.42,744.49ZM912.52,742.17L912.52,738.89L922.42,748.09L922.42,751.37ZM912.52,749.05L912.52,745.77L922.42,754.97L922.42,758.25ZM912.52,755.93L912.52,752.65L922.42,761.85L922.42,765.13ZM912.52,762.81L912.52,759.53L922.42,768.73L922.42,772.01ZM912.52,769.69L912.52,766.41L922.42,775.61L922.42,778.89ZM912.52,776.57L912.52,773.29L922.42,782.49L922.42,785.77ZM912.52,783.45L912.52,780.17L922.42,789.37L922.42,792.65ZM912.52,790.33L912.52,787.05L922.42,796.25L922.42,799.53ZM912.52,797.21L912.52,793.93L922.42,803.13L922.42,806.41ZM919.1,810.2L912.52,804.09L912.52,800.81L922.42,810.01L922.42,810.2ZM912.52,810.2L912.52,807.69L915.22,810.2Z"/><path fill-rule="evenodd" d="M906.92,658.9h21.1v151.3h-21.1zM912.52,664.7h9.9v145.5h-9.9z"/>
<rect x="916.47" y="619.4" width="2" height="40.5" fill="#000"/>
<rect x="916.32" y="658.9" width="2.3" height="40.7" fill="#000"/>
<rect x="911.22" y="618.3" width="12.5" height="2.2" fill="#000"/>
<rect x="912.02" y="698.5" width="10.9" height="2.2" fill="#000"/>
<rect x="853.25" y="810.2" width="3.9" height="15.1" fill="#000"/>
<text transform="translate(855.2,850.8) scale(0.95,1)" font-size="27.5" text-anchor="middle" font-weight="bold" stroke="#000" stroke-width="0.55" stroke-linejoin="round">Day1</text>
<g transform="translate(958.5,738.9)"><rect x="4.6" y="4.8" width="11.9" height="67.5" fill="url(#pc1_0)"/></g><path fill-rule="evenodd" d="M958.5,738.9h21.1v71.3h-21.1zM964.1,744.7h9.9v65.5h-9.9z"/>
<rect x="968.05" y="715.2" width="2" height="24.7" fill="#000"/>
<rect x="967.9" y="738.9" width="2.3" height="24.9" fill="#000"/>
<rect x="962.8" y="714.1" width="12.5" height="2.2" fill="#000"/>
<rect x="963.6" y="762.7" width="10.9" height="2.2" fill="#000"/>
<path d="M995.03,595.8L995.03,593.6L997.4,593.6ZM995.03,602.68L995.03,599.4L1001.27,593.6L1004.8,593.6ZM995.03,609.56L995.03,606.28L1004.93,597.08L1004.93,600.36ZM995.03,616.44L995.03,613.16L1004.93,603.96L1004.93,607.24ZM995.03,623.32L995.03,620.04L1004.93,610.84L1004.93,614.12ZM995.03,630.2L995.03,626.92L1004.93,617.72L1004.93,621ZM995.03,637.08L995.03,633.8L1004.93,624.6L1004.93,627.88ZM995.03,643.96L995.03,640.68L1004.93,631.48L1004.93,634.76ZM995.03,650.84L995.03,647.56L1004.93,638.36L1004.93,641.64ZM995.03,657.72L995.03,654.44L1004.93,645.24L1004.93,648.52ZM995.03,664.6L995.03,661.32L1004.93,652.12L1004.93,655.4ZM995.03,671.48L995.03,668.2L1004.93,659L1004.93,662.28ZM995.03,678.36L995.03,675.08L1004.93,665.88L1004.93,669.16ZM995.03,685.24L995.03,681.96L1004.93,672.76L1004.93,676.04ZM995.03,692.12L995.03,688.84L1004.93,679.64L1004.93,682.92ZM995.03,699L995.03,695.72L1004.93,686.52L1004.93,689.8ZM995.03,705.88L995.03,702.6L1004.93,693.4L1004.93,696.68ZM995.03,712.76L995.03,709.48L1004.93,700.28L1004.93,703.56ZM995.03,719.64L995.03,716.36L1004.93,707.16L1004.93,710.44ZM995.03,726.52L995.03,723.24L1004.93,714.04L1004.93,717.32ZM995.03,733.4L995.03,730.12L1004.93,720.92L1004.93,724.2ZM995.03,740.28L995.03,737L1004.93,727.8L1004.93,731.08ZM995.03,747.16L995.03,743.88L1004.93,734.68L1004.93,737.96ZM995.03,754.04L995.03,750.76L1004.93,741.56L1004.93,744.84ZM995.03,760.92L995.03,757.64L1004.93,748.44L1004.93,751.72ZM995.03,767.8L995.03,764.52L1004.93,755.32L1004.93,758.6ZM995.03,774.68L995.03,771.4L1004.93,762.2L1004.93,765.48ZM995.03,781.56L995.03,778.28L1004.93,769.08L1004.93,772.36ZM995.03,788.44L995.03,785.16L1004.93,775.96L1004.93,779.24ZM995.03,795.32L995.03,792.04L1004.93,782.84L1004.93,786.12ZM995.03,802.2L995.03,798.92L1004.93,789.72L1004.93,793ZM995.03,809.08L995.03,805.8L1004.93,796.6L1004.93,799.88ZM1001.23,810.2L997.7,810.2L1004.93,803.48L1004.93,806.76Z"/><path fill-rule="evenodd" d="M989.43,587.8h21.1v222.4h-21.1zM995.03,593.6h9.9v216.6h-9.9z"/>
<rect x="998.98" y="515.1" width="2" height="73.7" fill="#000"/>
<rect x="998.83" y="587.8" width="2.3" height="73.9" fill="#000"/>
<rect x="993.73" y="514" width="12.5" height="2.2" fill="#000"/>
<rect x="994.53" y="660.6" width="10.9" height="2.2" fill="#000"/>
<g transform="translate(1020.36,608.1)"><rect x="4.6" y="4.8" width="11.9" height="198.3" fill="url(#pc1_2)"/></g><path fill-rule="evenodd" d="M1020.36,608.1h21.1v202.1h-21.1zM1025.96,613.9h9.9v196.3h-9.9z"/>
<rect x="1029.91" y="576.7" width="2" height="32.4" fill="#000"/>
<rect x="1029.76" y="608.1" width="2.3" height="32.6" fill="#000"/>
<rect x="1024.66" y="575.6" width="12.5" height="2.2" fill="#000"/>
<rect x="1025.46" y="639.6" width="10.9" height="2.2" fill="#000"/>
<g transform="translate(1051.29,672.3)"><rect x="4.6" y="4.8" width="11.9" height="134.1" fill="url(#pc1_3)"/></g><path fill-rule="evenodd" d="M1051.29,672.3h21.1v137.9h-21.1zM1056.89,678.1h9.9v132.1h-9.9z"/>
<rect x="1060.84" y="629.4" width="2" height="43.9" fill="#000"/>
<rect x="1060.69" y="672.3" width="2.3" height="44.1" fill="#000"/>
<rect x="1055.59" y="628.3" width="12.5" height="2.2" fill="#000"/>
<rect x="1056.39" y="715.3" width="10.9" height="2.2" fill="#000"/>
<path d="M1093.3,671.5L1096.82,671.5L1097.72,672.33L1097.72,675.61ZM1087.82,673.29L1087.82,671.5L1089.42,671.5L1097.72,679.21L1097.72,682.49ZM1087.82,680.17L1087.82,676.89L1097.72,686.09L1097.72,689.37ZM1087.82,687.05L1087.82,683.77L1097.72,692.97L1097.72,696.25ZM1087.82,693.93L1087.82,690.65L1097.72,699.85L1097.72,703.13ZM1087.82,700.81L1087.82,697.53L1097.72,706.73L1097.72,710.01ZM1087.82,707.69L1087.82,704.41L1097.72,713.61L1097.72,716.89ZM1087.82,714.57L1087.82,711.29L1097.72,720.49L1097.72,723.77ZM1087.82,721.45L1087.82,718.17L1097.72,727.37L1097.72,730.65ZM1087.82,728.33L1087.82,725.05L1097.72,734.25L1097.72,737.53ZM1087.82,735.21L1087.82,731.93L1097.72,741.13L1097.72,744.41ZM1087.82,742.09L1087.82,738.81L1097.72,748.01L1097.72,751.29ZM1087.82,748.97L1087.82,745.69L1097.72,754.89L1097.72,758.17ZM1087.82,755.85L1087.82,752.57L1097.72,761.77L1097.72,765.05ZM1087.82,762.73L1087.82,759.45L1097.72,768.65L1097.72,771.93ZM1087.82,769.61L1087.82,766.33L1097.72,775.53L1097.72,778.81ZM1087.82,776.49L1087.82,773.21L1097.72,782.41L1097.72,785.69ZM1087.82,783.37L1087.82,780.09L1097.72,789.29L1097.72,792.57ZM1087.82,790.25L1087.82,786.97L1097.72,796.17L1097.72,799.45ZM1087.82,797.13L1087.82,793.85L1097.72,803.05L1097.72,806.33ZM1094.48,810.2L1087.82,804.01L1087.82,800.73L1097.72,809.93L1097.72,810.2ZM1087.82,810.2L1087.82,807.61L1090.61,810.2Z"/><path fill-rule="evenodd" d="M1082.22,665.7h21.1v144.5h-21.1zM1087.82,671.5h9.9v138.7h-9.9z"/>
<rect x="1091.77" y="621.7" width="2" height="45" fill="#000"/>
<rect x="1091.62" y="665.7" width="2.3" height="45.2" fill="#000"/>
<rect x="1086.52" y="620.6" width="12.5" height="2.2" fill="#000"/>
<rect x="1087.32" y="709.8" width="10.9" height="2.2" fill="#000"/>
<rect x="1028.55" y="810.2" width="3.9" height="15.1" fill="#000"/>
<text transform="translate(1030.5,850.8) scale(0.95,1)" font-size="27.5" text-anchor="middle" font-weight="bold" stroke="#000" stroke-width="0.55" stroke-linejoin="round">Day2</text>
<g transform="translate(1133.8,750.2)"><rect x="4.6" y="4.8" width="11.9" height="56.2" fill="url(#pc1_0)"/></g><path fill-rule="evenodd" d="M1133.8,750.2h21.1v60h-21.1zM1139.4,756h9.9v54.2h-9.9z"/>
<rect x="1143.35" y="733.8" width="2" height="17.4" fill="#000"/>
<rect x="1143.2" y="750.2" width="2.3" height="17.6" fill="#000"/>
<rect x="1138.1" y="732.7" width="12.5" height="2.2" fill="#000"/>
<rect x="1138.9" y="766.7" width="10.9" height="2.2" fill="#000"/>
<path d="M1170.33,628.2L1170.33,626L1172.7,626ZM1170.33,635.08L1170.33,631.8L1176.57,626L1180.1,626ZM1170.33,641.96L1170.33,638.68L1180.23,629.48L1180.23,632.76ZM1170.33,648.84L1170.33,645.56L1180.23,636.36L1180.23,639.64ZM1170.33,655.72L1170.33,652.44L1180.23,643.24L1180.23,646.52ZM1170.33,662.6L1170.33,659.32L1180.23,650.12L1180.23,653.4ZM1170.33,669.48L1170.33,666.2L1180.23,657L1180.23,660.28ZM1170.33,676.36L1170.33,673.08L1180.23,663.88L1180.23,667.16ZM1170.33,683.24L1170.33,679.96L1180.23,670.76L1180.23,674.04ZM1170.33,690.12L1170.33,686.84L1180.23,677.64L1180.23,680.92ZM1170.33,697L1170.33,693.72L1180.23,684.52L1180.23,687.8ZM1170.33,703.88L1170.33,700.6L1180.23,691.4L1180.23,694.68ZM1170.33,710.76L1170.33,707.48L1180.23,698.28L1180.23,701.56ZM1170.33,717.64L1170.33,714.36L1180.23,705.16L1180.23,708.44ZM1170.33,724.52L1170.33,721.24L1180.23,712.04L1180.23,715.32ZM1170.33,731.4L1170.33,728.12L1180.23,718.92L1180.23,722.2ZM1170.33,738.28L1170.33,735L1180.23,725.8L1180.23,729.08ZM1170.33,745.16L1170.33,741.88L1180.23,732.68L1180.23,735.96ZM1170.33,752.04L1170.33,748.76L1180.23,739.56L1180.23,742.84ZM1170.33,758.92L1170.33,755.64L1180.23,746.44L1180.23,749.72ZM1170.33,765.8L1170.33,762.52L1180.23,753.32L1180.23,756.6ZM1170.33,772.68L1170.33,769.4L1180.23,760.2L1180.23,763.48ZM1170.33,779.56L1170.33,776.28L1180.23,767.08L1180.23,770.36ZM1170.33,786.44L1170.33,783.16L1180.23,773.96L1180.23,777.24ZM1170.33,793.32L1170.33,790.04L1180.23,780.84L1180.23,784.12ZM1170.33,800.2L1170.33,796.92L1180.23,787.72L1180.23,791ZM1170.33,807.08L1170.33,803.8L1180.23,794.6L1180.23,797.88ZM1174.38,810.2L1170.85,810.2L1180.23,801.48L1180.23,804.76ZM1178.25,810.2L1180.23,808.36L1180.23,810.2Z"/><path fill-rule="evenodd" d="M1164.73,620.2h21.1v190h-21.1zM1170.33,626h9.9v184.2h-9.9z"/>
<rect x="1174.28" y="568" width="2" height="53.2" fill="#000"/>
<rect x="1174.13" y="620.2" width="2.3" height="53.4" fill="#000"/>
<rect x="1169.03" y="566.9" width="12.5" height="2.2" fill="#000"/>
<rect x="1169.83" y="672.5" width="10.9" height="2.2" fill="#000"/>
<g transform="translate(1195.66,628.9)"><rect x="4.6" y="4.8" width="11.9" height="177.5" fill="url(#pc1_2)"/></g><path fill-rule="evenodd" d="M1195.66,628.9h21.1v181.3h-21.1zM1201.26,634.7h9.9v175.5h-9.9z"/>
<rect x="1205.21" y="579.1" width="2" height="50.8" fill="#000"/>
<rect x="1205.06" y="628.9" width="2.3" height="51" fill="#000"/>
<rect x="1199.96" y="578" width="12.5" height="2.2" fill="#000"/>
<rect x="1200.76" y="678.8" width="10.9" height="2.2" fill="#000"/>
<g transform="translate(1226.59,698)"><rect x="4.6" y="4.8" width="11.9" height="108.4" fill="url(#pc1_3)"/></g><path fill-rule="evenodd" d="M1226.59,698h21.1v112.2h-21.1zM1232.19,703.8h9.9v106.4h-9.9z"/>
<rect x="1236.14" y="650.8" width="2" height="48.2" fill="#000"/>
<rect x="1235.99" y="698" width="2.3" height="48.4" fill="#000"/>
<rect x="1230.89" y="649.7" width="12.5" height="2.2" fill="#000"/>
<rect x="1231.69" y="745.3" width="10.9" height="2.2" fill="#000"/>
<path d="M1268.6,703.8L1272.12,703.8L1273.02,704.63L1273.02,707.91ZM1263.12,705.59L1263.12,703.8L1264.72,703.8L1273.02,711.51L1273.02,714.79ZM1263.12,712.47L1263.12,709.19L1273.02,718.39L1273.02,721.67ZM1263.12,719.35L1263.12,716.07L1273.02,725.27L1273.02,728.55ZM1263.12,726.23L1263.12,722.95L1273.02,732.15L1273.02,735.43ZM1263.12,733.11L1263.12,729.83L1273.02,739.03L1273.02,742.31ZM1263.12,739.99L1263.12,736.71L1273.02,745.91L1273.02,749.19ZM1263.12,746.87L1263.12,743.59L1273.02,752.79L1273.02,756.07ZM1263.12,753.75L1263.12,750.47L1273.02,759.67L1273.02,762.95ZM1263.12,760.63L1263.12,757.35L1273.02,766.55L1273.02,769.83ZM1263.12,767.51L1263.12,764.23L1273.02,773.43L1273.02,776.71ZM1263.12,774.39L1263.12,771.11L1273.02,780.31L1273.02,783.59ZM1263.12,781.27L1263.12,777.99L1273.02,787.19L1273.02,790.47ZM1263.12,788.15L1263.12,784.87L1273.02,794.07L1273.02,797.35ZM1263.12,795.03L1263.12,791.75L1273.02,800.95L1273.02,804.23ZM1272.04,810.2L1263.12,801.91L1263.12,798.63L1273.02,807.83L1273.02,810.2ZM1264.64,810.2L1263.12,808.79L1263.12,805.51L1268.17,810.2Z"/><path fill-rule="evenodd" d="M1257.52,698h21.1v112.2h-21.1zM1263.12,703.8h9.9v106.4h-9.9z"/>
<rect x="1267.07" y="658.4" width="2" height="40.6" fill="#000"/>
<rect x="1266.92" y="698" width="2.3" height="40.8" fill="#000"/>
<rect x="1261.82" y="657.3" width="12.5" height="2.2" fill="#000"/>
<rect x="1262.62" y="737.7" width="10.9" height="2.2" fill="#000"/>
<rect x="1203.85" y="810.2" width="3.9" height="15.1" fill="#000"/>
<text transform="translate(1205.8,850.8) scale(0.95,1)" font-size="27.5" text-anchor="middle" font-weight="bold" stroke="#000" stroke-width="0.55" stroke-linejoin="round">Day3</text>
<rect x="771.05" y="465.05" width="3.9" height="345.15" fill="#000"/>
<rect x="758" y="808.25" width="531.1" height="3.9" fill="#000"/>
<text transform="translate(756,819.2) scale(0.95,1)" font-size="27.6" text-anchor="end" font-weight="bold" stroke="#000" stroke-width="0.55" stroke-linejoin="round">0</text>
<rect x="758" y="739.61" width="15" height="3.9" fill="#000"/>
<text transform="translate(756,750.56) scale(0.95,1)" font-size="27.6" text-anchor="end" font-weight="bold" stroke="#000" stroke-width="0.55" stroke-linejoin="round">5</text>
<rect x="758" y="670.97" width="15" height="3.9" fill="#000"/>
<text transform="translate(756,681.92) scale(0.95,1)" font-size="27.6" text-anchor="end" font-weight="bold" stroke="#000" stroke-width="0.55" stroke-linejoin="round">10</text>
<rect x="758" y="602.33" width="15" height="3.9" fill="#000"/>
<text transform="translate(756,613.28) scale(0.95,1)" font-size="27.6" text-anchor="end" font-weight="bold" stroke="#000" stroke-width="0.55" stroke-linejoin="round">15</text>
<rect x="758" y="533.69" width="15" height="3.9" fill="#000"/>
<text transform="translate(756,544.64) scale(0.95,1)" font-size="27.6" text-anchor="end" font-weight="bold" stroke="#000" stroke-width="0.55" stroke-linejoin="round">20</text>
<rect x="758" y="465.05" width="15" height="3.9" fill="#000"/>
<text transform="translate(756,476) scale(0.95,1)" font-size="27.6" text-anchor="end" font-weight="bold" stroke="#000" stroke-width="0.55" stroke-linejoin="round">25</text>
<rect x="811.6" y="495.85" width="47.8" height="1.5" fill="#000"/>
<text transform="translate(835.5,492.7)" font-size="23.5" text-anchor="middle" font-weight="bold" stroke="#000" stroke-width="0.4" stroke-linejoin="round">*</text>
<rect x="877.7" y="574.75" width="47.8" height="1.5" fill="#000"/>
<text transform="translate(902.1,533.8)" font-size="23.5" text-anchor="middle" font-weight="bold" stroke="#000" stroke-width="0.4" stroke-linejoin="round">*</text>
<text transform="translate(902,558.9) scale(1.07,1)" font-size="19" text-anchor="middle" stroke="#000" stroke-width="0.3" stroke-linejoin="round">@</text>
<rect x="989.8" y="486.55" width="48.3" height="1.5" fill="#000"/>
<text transform="translate(1014.2,483.7)" font-size="23.5" text-anchor="middle" font-weight="bold" stroke="#000" stroke-width="0.4" stroke-linejoin="round">*</text>
<text transform="translate(1061.8,582.1)" font-size="23.5" text-anchor="middle" font-weight="bold" stroke="#000" stroke-width="0.4" stroke-linejoin="round">*</text>
<text transform="translate(1061.8,605.7) scale(1.07,1)" font-size="19" text-anchor="middle" stroke="#000" stroke-width="0.3" stroke-linejoin="round">@</text>
<text transform="translate(1092.8,607.6)" font-size="23.5" text-anchor="middle" font-weight="bold" stroke="#000" stroke-width="0.4" stroke-linejoin="round">*</text>
<rect x="1161.5" y="537.45" width="47.8" height="1.5" fill="#000"/>
<text transform="translate(1185.6,534.3)" font-size="23.5" text-anchor="middle" font-weight="bold" stroke="#000" stroke-width="0.4" stroke-linejoin="round">*</text>
<rect x="1227" y="625.05" width="49.1" height="1.5" fill="#666"/>
<text transform="translate(1251.7,587.3)" font-size="23.5" text-anchor="middle" font-weight="bold" stroke="#000" stroke-width="0.4" stroke-linejoin="round">*</text>
<text transform="translate(1251.7,610.9) scale(1.07,1)" font-size="19" text-anchor="middle" stroke="#000" stroke-width="0.3" stroke-linejoin="round">@</text>
<text transform="translate(1369.5,404.8)" font-size="58" font-weight="bold" stroke="#000" stroke-width="0.6" stroke-linejoin="round">c</text>
<text transform="translate(1385,638.1) rotate(-90)" font-size="30.3" text-anchor="middle" font-weight="bold" textLength="221.3" lengthAdjust="spacingAndGlyphs" stroke="#000" stroke-width="0.65" stroke-linejoin="round">Righting Reflex (s)</text>
<g transform="translate(1444.5,713.9)"><rect x="4.6" y="4.8" width="11.8" height="91.2" fill="url(#pc2_0)"/></g><path fill-rule="evenodd" d="M1444.5,713.9h21v95h-21zM1450.1,719.7h9.8v89.2h-9.8z"/>
<rect x="1454" y="667.7" width="2" height="47.2" fill="#000"/>
<rect x="1453.85" y="713.9" width="2.3" height="47.4" fill="#000"/>
<rect x="1448.75" y="666.6" width="12.5" height="2.2" fill="#000"/>
<rect x="1449.6" y="760.2" width="10.8" height="2.2" fill="#000"/>
<path d="M1480.72,608.4L1480.72,606.2L1483.08,606.2ZM1480.72,615.26L1480.72,611.98L1486.93,606.2L1490.46,606.2ZM1480.72,622.12L1480.72,618.84L1490.52,609.72L1490.52,613ZM1480.72,628.98L1480.72,625.7L1490.52,616.58L1490.52,619.86ZM1480.72,635.84L1480.72,632.56L1490.52,623.44L1490.52,626.72ZM1480.72,642.7L1480.72,639.42L1490.52,630.3L1490.52,633.58ZM1480.72,649.56L1480.72,646.28L1490.52,637.16L1490.52,640.44ZM1480.72,656.42L1480.72,653.14L1490.52,644.02L1490.52,647.3ZM1480.72,663.28L1480.72,660L1490.52,650.88L1490.52,654.16ZM1480.72,670.14L1480.72,666.86L1490.52,657.74L1490.52,661.02ZM1480.72,677L1480.72,673.72L1490.52,664.6L1490.52,667.88ZM1480.72,683.86L1480.72,680.58L1490.52,671.46L1490.52,674.74ZM1480.72,690.72L1480.72,687.44L1490.52,678.32L1490.52,681.6ZM1480.72,697.58L1480.72,694.3L1490.52,685.18L1490.52,688.46ZM1480.72,704.44L1480.72,701.16L1490.52,692.04L1490.52,695.32ZM1480.72,711.3L1480.72,708.02L1490.52,698.9L1490.52,702.18ZM1480.72,718.16L1480.72,714.88L1490.52,705.76L1490.52,709.04ZM1480.72,725.02L1480.72,721.74L1490.52,712.62L1490.52,715.9ZM1480.72,731.88L1480.72,728.6L1490.52,719.48L1490.52,722.76ZM1480.72,738.74L1480.72,735.46L1490.52,726.34L1490.52,729.62ZM1480.72,745.6L1480.72,742.32L1490.52,733.2L1490.52,736.48ZM1480.72,752.46L1480.72,749.18L1490.52,740.06L1490.52,743.34ZM1480.72,759.32L1480.72,756.04L1490.52,746.92L1490.52,750.2ZM1480.72,766.18L1480.72,762.9L1490.52,753.78L1490.52,757.06ZM1480.72,773.04L1480.72,769.76L1490.52,760.64L1490.52,763.92ZM1480.72,779.9L1480.72,776.62L1490.52,767.5L1490.52,770.78ZM1480.72,786.76L1480.72,783.48L1490.52,774.36L1490.52,777.64ZM1480.72,793.62L1480.72,790.34L1490.52,781.22L1490.52,784.5ZM1480.72,800.48L1480.72,797.2L1490.52,788.08L1490.52,791.36ZM1480.72,807.34L1480.72,804.06L1490.52,794.94L1490.52,798.22ZM1486.41,808.9L1482.89,808.9L1490.52,801.8L1490.52,805.08ZM1490.27,808.9L1490.52,808.66L1490.52,808.9Z"/><path fill-rule="evenodd" d="M1475.12,600.4h21v208.5h-21zM1480.72,606.2h9.8v202.7h-9.8z"/>
<rect x="1484.62" y="514.6" width="2" height="86.8" fill="#000"/>
<rect x="1484.47" y="600.4" width="2.3" height="87" fill="#000"/>
<rect x="1479.37" y="513.5" width="12.5" height="2.2" fill="#000"/>
<rect x="1480.22" y="686.3" width="10.8" height="2.2" fill="#000"/>
<g transform="translate(1505.74,619.7)"><rect x="4.6" y="4.8" width="11.8" height="185.4" fill="url(#pc2_2)"/></g><path fill-rule="evenodd" d="M1505.74,619.7h21v189.2h-21zM1511.34,625.5h9.8v183.4h-9.8z"/>
<rect x="1515.24" y="560.6" width="2" height="60.1" fill="#000"/>
<rect x="1515.09" y="619.7" width="2.3" height="60.3" fill="#000"/>
<rect x="1509.99" y="559.5" width="12.5" height="2.2" fill="#000"/>
<rect x="1510.84" y="678.9" width="10.8" height="2.2" fill="#000"/>
<g transform="translate(1536.36,704.3)"><rect x="4.6" y="4.8" width="11.8" height="100.8" fill="url(#pc2_3)"/></g><path fill-rule="evenodd" d="M1536.36,704.3h21v104.6h-21zM1541.96,710.1h9.8v98.8h-9.8z"/>
<rect x="1545.86" y="662.2" width="2" height="43.1" fill="#000"/>
<rect x="1545.71" y="704.3" width="2.3" height="43.3" fill="#000"/>
<rect x="1540.61" y="661.1" width="12.5" height="2.2" fill="#000"/>
<rect x="1541.46" y="746.5" width="10.8" height="2.2" fill="#000"/>
<path d="M1578.05,710.1L1581.58,710.1L1582.38,710.85L1582.38,714.13ZM1572.58,711.87L1572.58,710.1L1574.2,710.1L1582.38,717.71L1582.38,720.99ZM1572.58,718.73L1572.58,715.45L1582.38,724.57L1582.38,727.85ZM1572.58,725.59L1572.58,722.31L1582.38,731.43L1582.38,734.71ZM1572.58,732.45L1572.58,729.17L1582.38,738.29L1582.38,741.57ZM1572.58,739.31L1572.58,736.03L1582.38,745.15L1582.38,748.43ZM1572.58,746.17L1572.58,742.89L1582.38,752.01L1582.38,755.29ZM1572.58,753.03L1572.58,749.75L1582.38,758.87L1582.38,762.15ZM1572.58,759.89L1572.58,756.61L1582.38,765.73L1582.38,769.01ZM1572.58,766.75L1572.58,763.47L1582.38,772.59L1582.38,775.87ZM1572.58,773.61L1572.58,770.33L1582.38,779.45L1582.38,782.73ZM1572.58,780.47L1572.58,777.19L1582.38,786.31L1582.38,789.59ZM1572.58,787.33L1572.58,784.05L1582.38,793.17L1582.38,796.45ZM1572.58,794.19L1572.58,790.91L1582.38,800.03L1582.38,803.31ZM1581.02,808.9L1572.58,801.05L1572.58,797.77L1582.38,806.89L1582.38,808.9ZM1573.64,808.9L1572.58,807.91L1572.58,804.63L1577.17,808.9Z"/><path fill-rule="evenodd" d="M1566.98,704.3h21v104.6h-21zM1572.58,710.1h9.8v98.8h-9.8z"/>
<rect x="1576.48" y="662.2" width="2" height="43.1" fill="#000"/>
<rect x="1576.33" y="704.3" width="2.3" height="43.3" fill="#000"/>
<rect x="1571.23" y="661.1" width="12.5" height="2.2" fill="#000"/>
<rect x="1572.08" y="746.5" width="10.8" height="2.2" fill="#000"/>
<rect x="1513.85" y="808.9" width="3.9" height="14.5" fill="#000"/>
<text transform="translate(1515.8,849) scale(0.95,1)" font-size="27.5" text-anchor="middle" font-weight="bold" stroke="#000" stroke-width="0.55" stroke-linejoin="round">Day1</text>
<g transform="translate(1618.3,723.5)"><rect x="4.6" y="4.8" width="11.8" height="81.6" fill="url(#pc2_0)"/></g><path fill-rule="evenodd" d="M1618.3,723.5h21v85.4h-21zM1623.9,729.3h9.8v79.6h-9.8z"/>
<rect x="1627.8" y="692.5" width="2" height="32" fill="#000"/>
<rect x="1627.65" y="723.5" width="2.3" height="32.2" fill="#000"/>
<rect x="1622.55" y="691.4" width="12.5" height="2.2" fill="#000"/>
<rect x="1623.4" y="754.6" width="10.8" height="2.2" fill="#000"/>
<path d="M1654.52,627.4L1654.52,625.2L1656.88,625.2ZM1654.52,634.26L1654.52,630.98L1660.73,625.2L1664.26,625.2ZM1654.52,641.12L1654.52,637.84L1664.32,628.72L1664.32,632ZM1654.52,647.98L1654.52,644.7L1664.32,635.58L1664.32,638.86ZM1654.52,654.84L1654.52,651.56L1664.32,642.44L1664.32,645.72ZM1654.52,661.7L1654.52,658.42L1664.32,649.3L1664.32,652.58ZM1654.52,668.56L1654.52,665.28L1664.32,656.16L1664.32,659.44ZM1654.52,675.42L1654.52,672.14L1664.32,663.02L1664.32,666.3ZM1654.52,682.28L1654.52,679L1664.32,669.88L1664.32,673.16ZM1654.52,689.14L1654.52,685.86L1664.32,676.74L1664.32,680.02ZM1654.52,696L1654.52,692.72L1664.32,683.6L1664.32,686.88ZM1654.52,702.86L1654.52,699.58L1664.32,690.46L1664.32,693.74ZM1654.52,709.72L1654.52,706.44L1664.32,697.32L1664.32,700.6ZM1654.52,716.58L1654.52,713.3L1664.32,704.18L1664.32,707.46ZM1654.52,723.44L1654.52,720.16L1664.32,711.04L1664.32,714.32ZM1654.52,730.3L1654.52,727.02L1664.32,717.9L1664.32,721.18ZM1654.52,737.16L1654.52,733.88L1664.32,724.76L1664.32,728.04ZM1654.52,744.02L1654.52,740.74L1664.32,731.62L1664.32,734.9ZM1654.52,750.88L1654.52,747.6L1664.32,738.48L1664.32,741.76ZM1654.52,757.74L1654.52,754.46L1664.32,745.34L1664.32,748.62ZM1654.52,764.6L1654.52,761.32L1664.32,752.2L1664.32,755.48ZM1654.52,771.46L1654.52,768.18L1664.32,759.06L1664.32,762.34ZM1654.52,778.32L1654.52,775.04L1664.32,765.92L1664.32,769.2ZM1654.52,785.18L1654.52,781.9L1664.32,772.78L1664.32,776.06ZM1654.52,792.04L1654.52,788.76L1664.32,779.64L1664.32,782.92ZM1654.52,798.9L1654.52,795.62L1664.32,786.5L1664.32,789.78ZM1654.52,805.76L1654.52,802.48L1664.32,793.36L1664.32,796.64ZM1658.52,808.9L1654.99,808.9L1664.32,800.22L1664.32,803.5ZM1662.37,808.9L1664.32,807.08L1664.32,808.9Z"/><path fill-rule="evenodd" d="M1648.92,619.4h21v189.5h-21zM1654.52,625.2h9.8v183.7h-9.8z"/>
<rect x="1658.42" y="573.2" width="2" height="47.2" fill="#000"/>
<rect x="1658.27" y="619.4" width="2.3" height="47.4" fill="#000"/>
<rect x="1653.17" y="572.1" width="12.5" height="2.2" fill="#000"/>
<rect x="1654.02" y="665.7" width="10.8" height="2.2" fill="#000"/>
<g transform="translate(1679.54,628.4)"><rect x="4.6" y="4.8" width="11.8" height="176.7" fill="url(#pc2_2)"/></g><path fill-rule="evenodd" d="M1679.54,628.4h21v180.5h-21zM1685.14,634.2h9.8v174.7h-9.8z"/>
<rect x="1689.04" y="586" width="2" height="43.4" fill="#000"/>
<rect x="1688.89" y="628.4" width="2.3" height="43.6" fill="#000"/>
<rect x="1683.79" y="584.9" width="12.5" height="2.2" fill="#000"/>
<rect x="1684.64" y="670.9" width="10.8" height="2.2" fill="#000"/>
<g transform="translate(1710.16,704.3)"><rect x="4.6" y="4.8" width="11.8" height="100.8" fill="url(#pc2_3)"/></g><path fill-rule="evenodd" d="M1710.16,704.3h21v104.6h-21zM1715.76,710.1h9.8v98.8h-9.8z"/>
<rect x="1719.66" y="637.7" width="2" height="67.6" fill="#000"/>
<rect x="1719.51" y="704.3" width="2.3" height="67.8" fill="#000"/>
<rect x="1714.41" y="636.6" width="12.5" height="2.2" fill="#000"/>
<rect x="1715.26" y="771" width="10.8" height="2.2" fill="#000"/>
<path d="M1751.85,700.5L1755.38,700.5L1756.18,701.25L1756.18,704.53ZM1746.38,702.27L1746.38,700.5L1748,700.5L1756.18,708.11L1756.18,711.39ZM1746.38,709.13L1746.38,705.85L1756.18,714.97L1756.18,718.25ZM1746.38,715.99L1746.38,712.71L1756.18,721.83L1756.18,725.11ZM1746.38,722.85L1746.38,719.57L1756.18,728.69L1756.18,731.97ZM1746.38,729.71L1746.38,726.43L1756.18,735.55L1756.18,738.83ZM1746.38,736.57L1746.38,733.29L1756.18,742.41L1756.18,745.69ZM1746.38,743.43L1746.38,740.15L1756.18,749.27L1756.18,752.55ZM1746.38,750.29L1746.38,747.01L1756.18,756.13L1756.18,759.41ZM1746.38,757.15L1746.38,753.87L1756.18,762.99L1756.18,766.27ZM1746.38,764.01L1746.38,760.73L1756.18,769.85L1756.18,773.13ZM1746.38,770.87L1746.38,767.59L1756.18,776.71L1756.18,779.99ZM1746.38,777.73L1746.38,774.45L1756.18,783.57L1756.18,786.85ZM1746.38,784.59L1746.38,781.31L1756.18,790.43L1756.18,793.71ZM1746.38,791.45L1746.38,788.17L1756.18,797.29L1756.18,800.57ZM1746.38,798.31L1746.38,795.03L1756.18,804.15L1756.18,807.43ZM1750.39,808.9L1746.38,805.17L1746.38,801.89L1753.91,808.9ZM1746.38,808.9L1746.38,808.75L1746.54,808.9Z"/><path fill-rule="evenodd" d="M1740.78,694.7h21v114.2h-21zM1746.38,700.5h9.8v108.4h-9.8z"/>
<rect x="1750.28" y="644.3" width="2" height="51.4" fill="#000"/>
<rect x="1750.13" y="694.7" width="2.3" height="51.6" fill="#000"/>
<rect x="1745.03" y="643.2" width="12.5" height="2.2" fill="#000"/>
<rect x="1745.88" y="745.2" width="10.8" height="2.2" fill="#000"/>
<rect x="1687.65" y="808.9" width="3.9" height="14.5" fill="#000"/>
<text transform="translate(1689.6,849) scale(0.95,1)" font-size="27.5" text-anchor="middle" font-weight="bold" stroke="#000" stroke-width="0.55" stroke-linejoin="round">Day2</text>
<g transform="translate(1792.1,732.8)"><rect x="4.6" y="4.8" width="11.8" height="72.3" fill="url(#pc2_0)"/></g><path fill-rule="evenodd" d="M1792.1,732.8h21v76.1h-21zM1797.7,738.6h9.8v70.3h-9.8z"/>
<rect x="1801.6" y="703.8" width="2" height="30" fill="#000"/>
<rect x="1801.45" y="732.8" width="2.3" height="30.2" fill="#000"/>
<rect x="1796.35" y="702.7" width="12.5" height="2.2" fill="#000"/>
<rect x="1797.2" y="761.9" width="10.8" height="2.2" fill="#000"/>
<path d="M1828.32,636.4L1828.32,634.2L1830.68,634.2ZM1828.32,643.26L1828.32,639.98L1834.53,634.2L1838.06,634.2ZM1828.32,650.12L1828.32,646.84L1838.12,637.72L1838.12,641ZM1828.32,656.98L1828.32,653.7L1838.12,644.58L1838.12,647.86ZM1828.32,663.84L1828.32,660.56L1838.12,651.44L1838.12,654.72ZM1828.32,670.7L1828.32,667.42L1838.12,658.3L1838.12,661.58ZM1828.32,677.56L1828.32,674.28L1838.12,665.16L1838.12,668.44ZM1828.32,684.42L1828.32,681.14L1838.12,672.02L1838.12,675.3ZM1828.32,691.28L1828.32,688L1838.12,678.88L1838.12,682.16ZM1828.32,698.14L1828.32,694.86L1838.12,685.74L1838.12,689.02ZM1828.32,705L1828.32,701.72L1838.12,692.6L1838.12,695.88ZM1828.32,711.86L1828.32,708.58L1838.12,699.46L1838.12,702.74ZM1828.32,718.72L1828.32,715.44L1838.12,706.32L1838.12,709.6ZM1828.32,725.58L1828.32,722.3L1838.12,713.18L1838.12,716.46ZM1828.32,732.44L1828.32,729.16L1838.12,720.04L1838.12,723.32ZM1828.32,739.3L1828.32,736.02L1838.12,726.9L1838.12,730.18ZM1828.32,746.16L1828.32,742.88L1838.12,733.76L1838.12,737.04ZM1828.32,753.02L1828.32,749.74L1838.12,740.62L1838.12,743.9ZM1828.32,759.88L1828.32,756.6L1838.12,747.48L1838.12,750.76ZM1828.32,766.74L1828.32,763.46L1838.12,754.34L1838.12,757.62ZM1828.32,773.6L1828.32,770.32L1838.12,761.2L1838.12,764.48ZM1828.32,780.46L1828.32,777.18L1838.12,768.06L1838.12,771.34ZM1828.32,787.32L1828.32,784.04L1838.12,774.92L1838.12,778.2ZM1828.32,794.18L1828.32,790.9L1838.12,781.78L1838.12,785.06ZM1828.32,801.04L1828.32,797.76L1838.12,788.64L1838.12,791.92ZM1828.32,807.9L1828.32,804.62L1838.12,795.5L1838.12,798.78ZM1834.62,808.9L1831.09,808.9L1838.12,802.36L1838.12,805.64Z"/><path fill-rule="evenodd" d="M1822.72,628.4h21v180.5h-21zM1828.32,634.2h9.8v174.7h-9.8z"/>
<rect x="1832.22" y="586" width="2" height="43.4" fill="#000"/>
<rect x="1832.07" y="628.4" width="2.3" height="43.6" fill="#000"/>
<rect x="1826.97" y="584.9" width="12.5" height="2.2" fill="#000"/>
<rect x="1827.82" y="670.9" width="10.8" height="2.2" fill="#000"/>
<g transform="translate(1853.34,647.6)"><rect x="4.6" y="4.8" width="11.8" height="157.5" fill="url(#pc2_2)"/></g><path fill-rule="evenodd" d="M1853.34,647.6h21v161.3h-21zM1858.94,653.4h9.8v155.5h-9.8z"/>
<rect x="1862.84" y="581.4" width="2" height="67.2" fill="#000"/>
<rect x="1862.69" y="647.6" width="2.3" height="67.4" fill="#000"/>
<rect x="1857.59" y="580.3" width="12.5" height="2.2" fill="#000"/>
<rect x="1858.44" y="713.9" width="10.8" height="2.2" fill="#000"/>
<g transform="translate(1883.96,723.5)"><rect x="4.6" y="4.8" width="11.8" height="81.6" fill="url(#pc2_3)"/></g><path fill-rule="evenodd" d="M1883.96,723.5h21v85.4h-21zM1889.56,729.3h9.8v79.6h-9.8z"/>
<rect x="1893.46" y="676.1" width="2" height="48.4" fill="#000"/>
<rect x="1893.31" y="723.5" width="2.3" height="48.6" fill="#000"/>
<rect x="1888.21" y="675" width="12.5" height="2.2" fill="#000"/>
<rect x="1889.06" y="771" width="10.8" height="2.2" fill="#000"/>
<path d="M1925.65,719.7L1929.18,719.7L1929.98,720.45L1929.98,723.73ZM1920.18,721.47L1920.18,719.7L1921.8,719.7L1929.98,727.31L1929.98,730.59ZM1920.18,728.33L1920.18,725.05L1929.98,734.17L1929.98,737.45ZM1920.18,735.19L1920.18,731.91L1929.98,741.03L1929.98,744.31ZM1920.18,742.05L1920.18,738.77L1929.98,747.89L1929.98,751.17ZM1920.18,748.91L1920.18,745.63L1929.98,754.75L1929.98,758.03ZM1920.18,755.77L1920.18,752.49L1929.98,761.61L1929.98,764.89ZM1920.18,762.63L1920.18,759.35L1929.98,768.47L1929.98,771.75ZM1920.18,769.49L1920.18,766.21L1929.98,775.33L1929.98,778.61ZM1920.18,776.35L1920.18,773.07L1929.98,782.19L1929.98,785.47ZM1920.18,783.21L1920.18,779.93L1929.98,789.05L1929.98,792.33ZM1920.18,790.07L1920.18,786.79L1929.98,795.91L1929.98,799.19ZM1920.18,796.93L1920.18,793.65L1929.98,802.77L1929.98,806.05ZM1925.67,808.9L1920.18,803.79L1920.18,800.51L1929.2,808.9ZM1920.18,808.9L1920.18,807.37L1921.82,808.9Z"/><path fill-rule="evenodd" d="M1914.58,713.9h21v95h-21zM1920.18,719.7h9.8v89.2h-9.8z"/>
<rect x="1924.08" y="645" width="2" height="69.9" fill="#000"/>
<rect x="1923.93" y="713.9" width="2.3" height="70.1" fill="#000"/>
<rect x="1918.83" y="643.9" width="12.5" height="2.2" fill="#000"/>
<rect x="1919.68" y="782.9" width="10.8" height="2.2" fill="#000"/>
<rect x="1861.45" y="808.9" width="3.9" height="14.5" fill="#000"/>
<text transform="translate(1863.4,849) scale(0.95,1)" font-size="27.5" text-anchor="middle" font-weight="bold" stroke="#000" stroke-width="0.55" stroke-linejoin="round">Day3</text>
<rect x="1432.35" y="466.05" width="3.9" height="342.85" fill="#000"/>
<rect x="1419.3" y="806.95" width="526.7" height="3.9" fill="#000"/>
<text transform="translate(1417.3,817.9) scale(0.95,1)" font-size="27.6" text-anchor="end" font-weight="bold" stroke="#000" stroke-width="0.55" stroke-linejoin="round">0</text>
<rect x="1419.3" y="693.32" width="15" height="3.9" fill="#000"/>
<text transform="translate(1417.3,704.27) scale(0.95,1)" font-size="27.6" text-anchor="end" font-weight="bold" stroke="#000" stroke-width="0.55" stroke-linejoin="round">2</text>
<rect x="1419.3" y="579.68" width="15" height="3.9" fill="#000"/>
<text transform="translate(1417.3,590.63) scale(0.95,1)" font-size="27.6" text-anchor="end" font-weight="bold" stroke="#000" stroke-width="0.55" stroke-linejoin="round">4</text>
<rect x="1419.3" y="466.05" width="15" height="3.9" fill="#000"/>
<text transform="translate(1417.3,477) scale(0.95,1)" font-size="27.6" text-anchor="end" font-weight="bold" stroke="#000" stroke-width="0.55" stroke-linejoin="round">6</text>
<rect x="1479.3" y="491.15" width="48.3" height="1.5" fill="#000"/>
<text transform="translate(1503.7,482.4)" font-size="23.5" text-anchor="middle" font-weight="bold" stroke="#000" stroke-width="0.4" stroke-linejoin="round">*</text>
<rect x="1537.4" y="622.55" width="49.3" height="1.5" fill="#000"/>
<text transform="translate(1562.3,611.1) scale(1.07,1)" font-size="19" text-anchor="middle" stroke="#000" stroke-width="0.3" stroke-linejoin="round">@</text>
<rect x="1648.9" y="541.35" width="48.8" height="1.5" fill="#000"/>
<text transform="translate(1673.8,533)" font-size="23.5" text-anchor="middle" font-weight="bold" stroke="#000" stroke-width="0.4" stroke-linejoin="round">*</text>
<text transform="translate(1720.1,618.8) scale(1.07,1)" font-size="19" text-anchor="middle" stroke="#000" stroke-width="0.3" stroke-linejoin="round">@</text>
<rect x="1820.3" y="560.05" width="49.1" height="1.5" fill="#000"/>
<text transform="translate(1844.7,551.3)" font-size="23.5" text-anchor="middle" font-weight="bold" stroke="#000" stroke-width="0.4" stroke-linejoin="round">*</text>
<text transform="translate(1894.8,655.7) scale(1.07,1)" font-size="19" text-anchor="middle" stroke="#000" stroke-width="0.3" stroke-linejoin="round">@</text>
</svg></body></html>
